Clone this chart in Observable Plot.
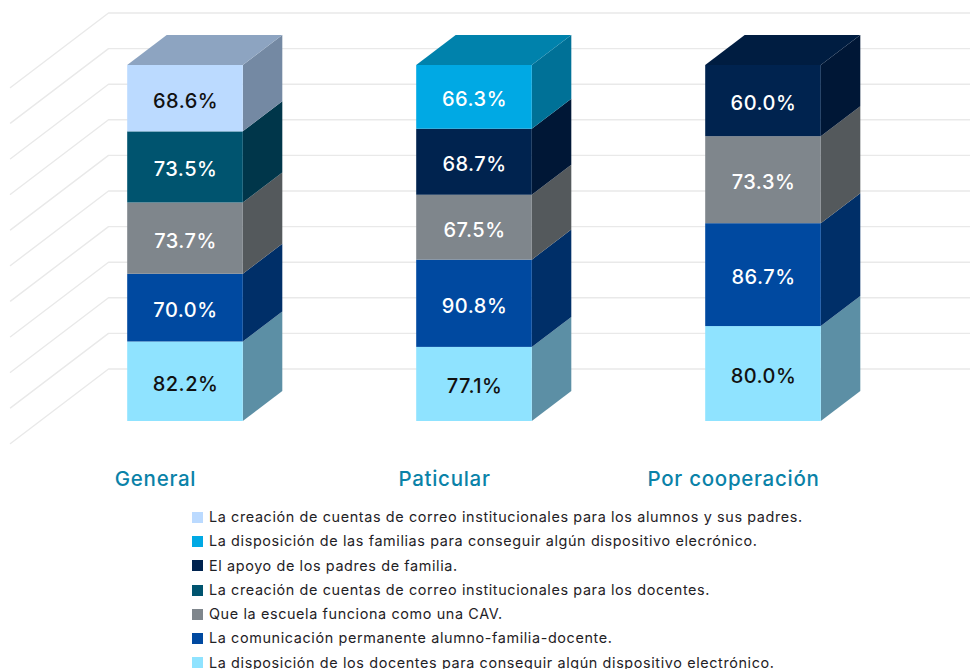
<!DOCTYPE html>
<html lang="es">
<head>
<meta charset="utf-8">
<script src="https://cdn.jsdelivr.net/npm/d3@7"></script>
<script src="https://cdn.jsdelivr.net/npm/@observablehq/plot@0.6"></script>
<style>
  html, body { margin: 0; padding: 0; background: #fff; width: 970px; height: 669px; overflow: hidden; }
  #chart svg { display: block; }
  #legend { margin: 0; padding: 0 0 0 192px; list-style: none; font-family: Inter, sans-serif; font-size: 14.4px; font-weight: 400; color: #1f2226; letter-spacing: 0.62px; }
  #legend li { height: 24.3px; line-height: 24.3px; display: flex; align-items: center; white-space: nowrap; }
  #legend i { width: 11px; height: 11px; margin-right: 6px; flex: none; }
  .value-label { letter-spacing: 0.5px; }
  .category-label { letter-spacing: 0.72px; }
</style>
</head>
<body>
<div id="chart"></div>
<ul id="legend"></ul>
<script>
const categories = ["General", "Paticular", "Por cooperación"];

// Stacking order, bottom to top
const seriesNames = [
  "La disposición de los docentes para conseguir algún dispositivo electrónico.",
  "La comunicación permanente alumno-familia-docente.",
  "Que la escuela funciona como una CAV.",
  "La creación de cuentas de correo institucionales para los docentes.",
  "El apoyo de los padres de familia.",
  "La disposición de las familias para conseguir algún dispositivo elecrónico.",
  "La creación de cuentas de correo institucionales para los alumnos y sus padres."
];
const docentesDispositivo = [82.2, 77.1, 80.0];
const comunicacion       = [70.0, 90.8, 86.7];
const escuelaCav         = [73.7, 67.5, 73.3];
const correoDocentes     = [73.5, null, null];
const apoyoPadres        = [null, 68.7, 60.0];
const familiasDispositivo = [null, 66.3, null];
const correoAlumnos      = [68.6, null, null];
const seriesValues = [docentesDispositivo, comunicacion, escuelaCav, correoDocentes, apoyoPadres, familiasDispositivo, correoAlumnos];

const frontColors = ["#8FE3FF", "#0049A0", "#7F868C", "#00546F", "#00234F", "#00A9E4", "#BBDAFF"];
const sideColors  = ["#5C8FA5", "#002F68", "#54595C", "#00364A", "#001736", "#007197", "#7489A3"];
const topColors   = ["#6DADC2", "#003879", "#60666B", "#004055", "#001D41", "#0082AC", "#8DA4C1"];
const labelColors = ["#111", "#fff", "#fff", "#fff", "#fff", "#fff", "#111"];

const wallLevels = d3.range(0, 101, 10);
const wallBase = 14.75;          // share-scale height of the back wall's first line

const barHalf = 0.2;             // half bar width, x units
const depthX = 0.1367;           // oblique depth, x units
const depthY = 8.43;             // oblique depth, share units
const wallEdge = -0.2664;        // back-wall corner, x units
const wallOuter = -0.6055;       // front end of the wall's diagonals, x units
const wallRise = 20.93;          // drop of the diagonals, share units

// Normalised stacks
const segments = [];
categories.forEach((cat, c) => {
  const total = d3.sum(seriesValues, s => s[c]);
  let base = 0;
  seriesValues.forEach((s, k) => {
    if (s[c] == null) return;
    const share = s[c] / total * 100;
    segments.push({cat, c, k, value: s[c], y0: base, y1: base + share});
    base += share;
  });
});
const tops = d3.rollups(segments, v => v[v.length - 1], d => d.c).map(d => d[1]);

const sidePoints = segments.flatMap(d => [
  {id: `${d.c}-${d.k}`, x: d.c + barHalf, lo: d.y0, hi: d.y1, fill: sideColors[d.k]},
  {id: `${d.c}-${d.k}`, x: d.c + barHalf + depthX, lo: d.y0 + depthY, hi: d.y1 + depthY, fill: sideColors[d.k]}
]);
const topPoints = tops.flatMap(d => [
  {id: d.c, y: d.y1, x1: d.c - barHalf, x2: d.c + barHalf, fill: topColors[d.k]},
  {id: d.c, y: d.y1 + depthY, x1: d.c - barHalf + depthX, x2: d.c + barHalf + depthX, fill: topColors[d.k]}
]);
const xMin = -185 / 289, xMax = (970 - 185) / 289;
const wallPoints = wallLevels.flatMap(l => [
  {l, x: wallOuter, y: wallBase + l - wallRise},
  {l, x: wallEdge, y: wallBase + l},
  {l, x: xMax, y: wallBase + l}
]);

const plot = Plot.plot({
  width: 970, height: 505,
  marginTop: 0, marginRight: 0, marginBottom: 0, marginLeft: 0,
  style: {background: "#fff", overflow: "hidden"},
  x: {domain: [xMin, xMax], range: [0, 970], axis: null},
  y: {domain: [0, 100], range: [421, 65], axis: null},
  marks: [
    Plot.line(wallPoints, {x: "x", y: "y", z: "l", stroke: "#e9e9e9", strokeWidth: 1.4}),
    Plot.areaY(sidePoints, {x: "x", y1: "lo", y2: "hi", z: "id", fill: "fill"}),
    Plot.areaX(topPoints, {y: "y", x1: "x1", x2: "x2", z: "id", fill: "fill"}),
    Plot.rect(segments, {
      x1: d => d.c - barHalf, x2: d => d.c + barHalf,
      y1: "y0", y2: "y1", fill: d => frontColors[d.k]
    }),
    Plot.text(segments, {
      x: "c", y: d => (d.y0 + d.y1) / 2, dy: 2.5,
      text: d => d.value.toFixed(1) + "%",
      fill: d => labelColors[d.k],
      className: "value-label",
      fontFamily: "Inter, sans-serif", fontSize: 20, fontWeight: 500
    }),
    Plot.text(categories, {
      x: (d, i) => i, y: -16.4, dx: -30,
      text: d => d,
      fill: "#0A82A8",
      className: "category-label",
      fontFamily: "Inter, sans-serif", fontSize: 20.5, fontWeight: 500
    })
  ]
});
document.getElementById("chart").append(plot);

const legend = document.getElementById("legend");
d3.range(seriesNames.length - 1, -1, -1).forEach(k => {
  const li = document.createElement("li");
  const sw = document.createElement("i");
  sw.style.background = frontColors[k];
  li.append(sw, seriesNames[k]);
  legend.append(li);
});
</script>
</body>
</html>
